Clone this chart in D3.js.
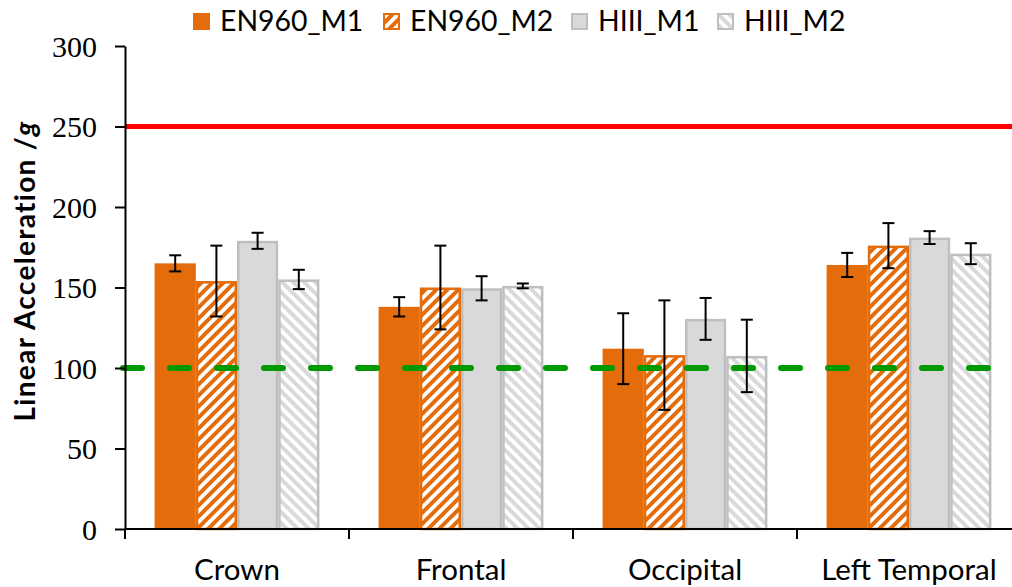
<!DOCTYPE html>
<meta charset="utf-8">
<script src="https://d3js.org/d3.v7.min.js"></script>
<style>
    body { margin: 0; background: #fff; }
    .ytick text { font-family: 'Liberation Serif', serif; font-size: 30px; fill: #000; }
    .cat { font-family: Lato, sans-serif; font-size: 29.5px; fill: #000; }
    .legend text { font-family: Lato, sans-serif; font-size: 28.4px; fill: #000; }
    .ytitle { font-family: Lato, sans-serif; font-size: 28px; font-weight: bold; fill: #000; letter-spacing: 1.3px; }
</style>
<div id="chart"></div>
<script>
    // values
    const categories = ["Crown", "Frontal", "Occipital", "Left Temporal"];
    const seriesNames = ["EN960_M1", "EN960_M2", "HIII_M1", "HIII_M2"];
    const en960_m1 = [165, 138, 112, 164];
    const en960_m2 = [154, 150, 108, 176];
    const hiii_m1 = [179, 149.5, 130.5, 181];
    const hiii_m2 = [155, 151, 107.5, 171];
    const en960_m1_err = [5, 6, 22, 7.5];
    const en960_m2_err = [22, 26, 34, 14];
    const hiii_m1_err = [5, 7.5, 13, 4];
    const hiii_m2_err = [6, 1.5, 22.5, 6.5];
    const yTicks = [0, 50, 100, 150, 200, 250, 300];
    const upperLimit = 250;
    const lowerLimit = 100;

    const means = [en960_m1, en960_m2, hiii_m1, hiii_m2];
    const errs = [en960_m1_err, en960_m2_err, hiii_m1_err, hiii_m2_err];

    const W = 1012, H = 587;
    const plotLeft = 125, plotTop = 46, plotBottom = 529, bandW = 224;

    let svg = d3.select("#chart").append("svg")
        .attr("width", W).attr("height", H);

    let defs = svg.append("defs");
    function hatch(id, color, up) {
        let p = defs.append("pattern")
            .attr("id", id)
            .attr("patternUnits", "userSpaceOnUse")
            .attr("width", 11).attr("height", 11);
        p.append("rect").attr("width", 11).attr("height", 11).attr("fill", "#fff");
        let d = up ? "M-3,3 l6,-6 M0,11 l11,-11 M8,14 l6,-6"
                   : "M-3,8 l6,6 M0,0 l11,11 M8,-3 l6,6";
        p.append("path").attr("d", d).attr("stroke", color).attr("stroke-width", 4);
    }
    hatch("hatchOrange", "#E46C0A", true);
    hatch("hatchGray", "#D9D9D9", false);

    const styles = [
        {fill: "#E46C0A", stroke: "none"},
        {fill: "url(#hatchOrange)", stroke: "#E46C0A"},
        {fill: "#D9D9D9", stroke: "#BFBFBF"},
        {fill: "url(#hatchGray)", stroke: "#BFBFBF"}
    ];

    let x = d3.scaleBand()
        .domain(categories)
        .range([plotLeft, plotLeft + bandW * categories.length])
        .padding(0);

    let xs = d3.scaleBand()
        .domain(seriesNames)
        .range([29.6, bandW - 29.6])
        .padding(0);

    let y = d3.scaleLinear()
        .domain([0, 300])
        .range([plotBottom, plotTop]);

    // bars
    let rows = [];
    categories.forEach(function (c, i) {
        seriesNames.forEach(function (s, j) {
            rows.push({cat: c, s: s, j: j, v: means[j][i], e: errs[j][i]});
        });
    });

    let inset = d => styles[d.j].stroke === "none" ? 0 : 1.25;
    svg.append("g").selectAll("rect")
        .data(rows)
        .enter()
        .append("rect")
        .attr("x", d => x(d.cat) + xs(d.s) + inset(d))
        .attr("y", d => y(d.v) + inset(d))
        .attr("width", d => xs.bandwidth() - 2 * inset(d))
        .attr("height", d => y(0) - y(d.v) - inset(d))
        .attr("fill", d => styles[d.j].fill)
        .attr("stroke", d => styles[d.j].stroke)
        .attr("stroke-width", 2.5);

    // limit lines
    svg.append("line")
        .attr("x1", plotLeft).attr("x2", W)
        .attr("y1", y(upperLimit)).attr("y2", y(upperLimit))
        .attr("stroke", "#FF0000").attr("stroke-width", 5);

    svg.append("line")
        .attr("x1", plotLeft - 2).attr("x2", W)
        .attr("y1", y(lowerLimit)).attr("y2", y(lowerLimit))
        .attr("stroke", "#009A00").attr("stroke-width", 6)
        .attr("stroke-linecap", "round")
        .attr("stroke-dasharray", "19 28");

    // error bars
    let eb = svg.append("g").attr("stroke", "#000").attr("stroke-width", 2);
    rows.forEach(function (d) {
        let cx = x(d.cat) + xs(d.s) + xs.bandwidth() / 2;
        eb.append("line").attr("x1", cx).attr("x2", cx)
            .attr("y1", y(d.v + d.e)).attr("y2", y(d.v - d.e));
        [d.v + d.e, d.v - d.e].forEach(function (v) {
            eb.append("line").attr("x1", cx - 6).attr("x2", cx + 6)
                .attr("y1", y(v)).attr("y2", y(v));
        });
    });

    // y axis
    let yAxis = svg.append("g")
        .attr("class", "ytick")
        .attr("transform", "translate(" + plotLeft + ",0)")
        .call(d3.axisLeft(y).tickValues(yTicks).tickSize(10).tickSizeOuter(0).tickPadding(18));
    yAxis.selectAll("line").attr("stroke", "#000").attr("stroke-width", 2);
    yAxis.select(".domain").attr("stroke", "#000").attr("stroke-width", 2);
    yAxis.selectAll("text").attr("dy", "0.34em");

    // x axis
    svg.append("line")
        .attr("x1", plotLeft).attr("x2", W)
        .attr("y1", plotBottom).attr("y2", plotBottom)
        .attr("stroke", "#000").attr("stroke-width", 2);
    svg.append("g").selectAll("line")
        .data(categories)
        .enter()
        .append("line")
        .attr("x1", d => x(d)).attr("x2", d => x(d))
        .attr("y1", plotBottom).attr("y2", plotBottom + 10)
        .attr("stroke", "#000").attr("stroke-width", 2);
    svg.append("g").selectAll("text")
        .data(categories)
        .enter()
        .append("text")
        .attr("class", "cat")
        .attr("x", d => x(d) + x.bandwidth() / 2)
        .attr("y", 580)
        .attr("text-anchor", "middle")
        .text(d => d);

    // y title
    let yt = svg.append("text")
        .attr("class", "ytitle")
        .attr("transform", "translate(35,271) rotate(-90)")
        .attr("text-anchor", "middle");
    yt.append("tspan").text("Linear Acceleration /");
    yt.append("tspan").style("font-style", "italic").text("g");

    // legend
    const legendX = [193, 383, 571, 717];
    let lg = svg.append("g").attr("class", "legend");
    seriesNames.forEach(function (s, j) {
        let g = lg.append("g").attr("transform", "translate(" + legendX[j] + ",13)");
        let st = styles[j];
        g.append("rect")
            .attr("x", st.stroke === "none" ? 0 : 1)
            .attr("y", st.stroke === "none" ? 0 : 1)
            .attr("width", st.stroke === "none" ? 17 : 15)
            .attr("height", st.stroke === "none" ? 17 : 15)
            .attr("fill", st.fill)
            .attr("stroke", st.stroke)
            .attr("stroke-width", 2);
        g.append("text")
            .attr("x", 27)
            .attr("y", 18)
            .text(s);
    });
</script>
